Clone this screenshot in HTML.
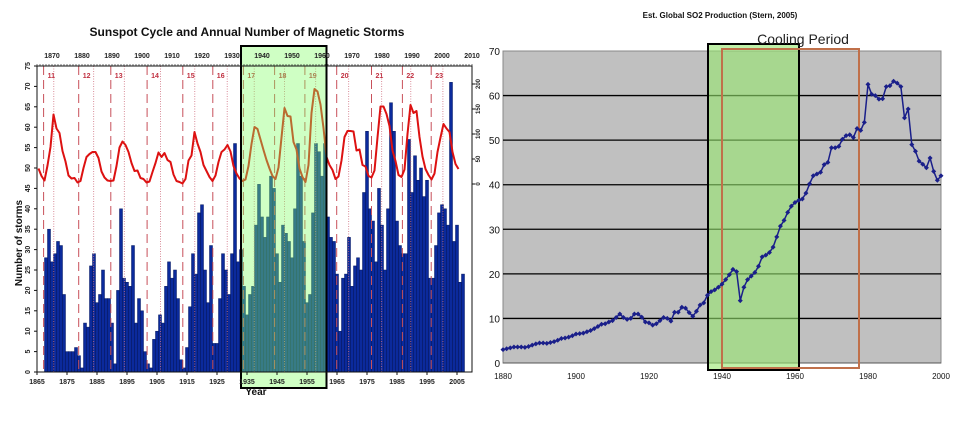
<!DOCTYPE html>
<html><head><meta charset="utf-8"><style>
html,body{margin:0;padding:0;background:#fff;}
svg{display:block;font-family:"Liberation Sans",sans-serif;}
</style></head><body>
<svg id="s" width="960" height="421" viewBox="0 0 960 421">
<g id="left"></g>
<g id="right"></g>
</svg>
<script>
// ---------- Left chart data ----------
const stormStartYear = 1867;
const stormCounts = [28,35,27,29,32,31,19,5,5,5,6,4,1,12,11,26,29,17,19,25,18,18,12,2,20,40,23,22,21,31,12,18,15,5,2,1,8,10,14,12,21,27,23,25,18,3,1,6,16,29,24,39,41,25,17,31,7,7,18,29,25,19,29,56,27,30,21,14,19,21,36,46,38,33,38,48,45,29,22,36,34,32,28,40,56,48,32,17,19,39,56,54,48,56,38,33,32,24,10,23,24,33,21,26,28,25,44,59,40,37,27,45,36,25,40,66,59,37,31,29,29,57,44,53,47,50,43,47,23,23,31,39,41,40,36,71,32,36,22,24];
const sunspotStartYear = 1865;
const sunspotNumbers = [31,16,7,37,74,139,111,102,66,45,17,11,12,3,6,32,54,60,64,64,52,25,13,7,6,7,36,73,85,78,64,42,26,27,12,10,3,5,24,42,63,54,62,48,44,19,6,4,1,10,47,57,104,81,64,38,26,14,6,17,44,64,69,78,65,36,21,11,6,9,36,80,114,110,89,68,48,31,16,10,33,93,152,136,135,84,69,31,14,4,38,142,190,185,159,112,54,38,28,10,15,47,94,106,106,105,67,69,38,35,16,13,27,93,155,155,140,116,67,46,18,14,29,100,158,142,146,94,55,30,18,9,21,64,93,120,111,104,64,40,30];
const cycleMinima = [1867.2,1878.9,1889.6,1901.7,1913.6,1923.6,1933.8,1944.2,1954.3,1964.9,1976.5,1986.8,1996.4];
const cycleMaxima = [1870.6,1883.9,1894.1,1906.2,1917.6,1928.4,1937.4,1947.5,1957.9,1968.9,1979.9,1989.6,2000.3];
const cycleLabels = ["11","12","13","14","15","16","17","18","19","20","21","22","23"];
const leftYTicks = [0,5,10,15,20,25,30,35,40,45,50,55,60,65,70,75];
const leftBottomTicks = [1865,1875,1885,1895,1905,1915,1925,1935,1945,1955,1965,1975,1985,1995,2005];
const leftTopTicks = [1870,1880,1890,1900,1910,1920,1930,1940,1950,1960,1970,1980,1990,2000,2010];
const rightSsnTicks = [0,50,100,150,200];

// ---------- Right chart data ----------
const so2Years = [1880,1881,1882,1883,1884,1885,1886,1887,1888,1889,1890,1891,1892,1893,1894,1895,1896,1897,1898,1899,1900,1901,1902,1903,1904,1905,1906,1907,1908,1909,1910,1911,1912,1913,1914,1915,1916,1917,1918,1919,1920,1921,1922,1923,1924,1925,1926,1927,1928,1929,1930,1931,1932,1933,1934,1935,1936,1937,1938,1939,1940,1941,1942,1943,1944,1945,1946,1947,1948,1949,1950,1951,1952,1953,1954,1955,1956,1957,1958,1959,1960,1961,1962,1963,1964,1965,1966,1967,1968,1969,1970,1971,1972,1973,1974,1975,1976,1977,1978,1979,1980,1981,1982,1983,1984,1985,1986,1987,1988,1989,1990,1991,1992,1993,1994,1995,1996,1997,1998,1999,2000];
const so2Values = [3,3.2,3.4,3.6,3.6,3.6,3.5,3.7,4,4.3,4.5,4.5,4.4,4.6,4.8,5.1,5.5,5.6,5.8,6.1,6.5,6.6,6.7,7,7.3,7.7,8.2,8.7,8.8,9.2,9.5,10.2,11,10.2,9.8,10,11,11,10.3,9.2,9,8.5,8.8,9.5,10.2,10,9.4,11.4,11.4,12.5,12.3,11.3,10.5,11.6,13,13.5,15.2,16,16.4,17,17.7,18.7,19.8,21,20.5,14,17,18.7,19.5,20.3,21.7,23.8,24.2,24.8,26,28.3,30.7,32,33.8,35.2,36,36.5,36.8,38.1,40.2,42,42.4,42.8,44.5,45,48.3,48.3,48.6,50.2,51,51.2,50.6,52.6,52.2,54,62.5,60.3,60,59.2,59.3,62,62.2,63.2,62.8,62,55,57,49,47.5,45.3,44.6,43.8,46,43,41,42];
const so2YTicks = [0,10,20,30,40,50,60,70];
const so2XTicks = [1880,1900,1920,1940,1960,1980,2000];
const so2XTickLabels = ["1880","1900","1920","1940","1960","1980","2000"];

const NS="http://www.w3.org/2000/svg";
function mk(parent,tag,attrs,txt){const e=document.createElementNS(NS,tag);for(const k in attrs)e.setAttribute(k,attrs[k]);if(txt!==undefined)e.textContent=txt;parent.appendChild(e);return e;}

// ===== LEFT =====
const L=document.getElementById('left');
const lx0=37,lx1=472,ly0=66,ly1=372;
const xL=y=>lx0+(y-1865)*(lx1-lx0)/(2010-1865);
const yL=v=>ly1-v*(ly1-ly0)/75;
const yS=s=>184-s*0.5;

let t=mk(L,'text',{x:247,y:36,'text-anchor':'middle','font-size':12,'font-weight':'bold',fill:'#111'},'Sunspot Cycle and Annual Number of Magnetic Storms');



const bars=mk(L,'g',{});


stormCounts.forEach((v,i)=>{const yr=stormStartYear+i;const xa=xL(yr+0.5),xb=xL(yr+1.5);
 const r=mk(bars,'rect',{x:xa,y:yL(v),width:xb-xa,height:yL(0)-yL(v),fill:'#0b2a9c',stroke:'#06195e','stroke-width':0.5});
 
 });

const cyc=mk(L,'g',{});


cycleMinima.forEach((m,i)=>{
 const l=mk(cyc,'line',{x1:xL(m),x2:xL(m),y1:ly0,y2:ly1,stroke:'#c8505a','stroke-width':1,'stroke-dasharray':'9,5'});
 
 
 const tx=mk(cyc,'text',{x:xL(m)+4,y:78,'font-size':7,fill:'#c03040','font-weight':'bold'},cycleLabels[i]);
 
 
});
cycleMaxima.forEach(m=>{
 const l=mk(cyc,'line',{x1:xL(m),x2:xL(m),y1:ly0,y2:ly1,stroke:'#d07080','stroke-width':0.8,'stroke-dasharray':'1,1.5'});
 
 
});

let d='';sunspotNumbers.forEach((s,i)=>{d+=(i?'L':'M')+xL(sunspotStartYear+i+0.5)+','+yS(s);});
const ssl=mk(L,'path',{d:d,fill:'none',stroke:'#dd1111','stroke-width':2,'stroke-linejoin':'round'});



const ov=mk(L,'rect',{x:xL(1933),y:46,width:xL(1961.5)-xL(1933),height:342,fill:'rgba(130,255,100,0.38)',stroke:'#000','stroke-width':2});



const fr=mk(L,'rect',{x:lx0,y:ly0,width:lx1-lx0,height:ly1-ly0,fill:'none',stroke:'#111','stroke-width':1});



const ax=mk(L,'g',{'font-size':7,fill:'#222','font-weight':'bold'});


leftYTicks.forEach(v=>{const y=yL(v);mk(ax,'line',{x1:lx0-3,x2:lx0,y1:y,y2:y,stroke:'#111'});
 const tx=mk(ax,'text',{x:30,y:y,transform:`rotate(-90 30 ${y})`,'text-anchor':'middle'},String(v));
 
 });
leftBottomTicks.forEach(v=>{const x=xL(v);mk(ax,'line',{x1:x,x2:x,y1:ly1,y2:ly1+3,stroke:'#111'});
 const tx=mk(ax,'text',{x:x,y:384,'text-anchor':'middle'},String(v));
 
 });
for(let yr=1865;yr<=2010;yr++){const x=xL(yr);mk(ax,'line',{x1:x,x2:x,y1:ly0,y2:ly0-2,stroke:'#111','stroke-width':0.6});}
leftTopTicks.forEach(v=>{const x=xL(v);
 const tx=mk(ax,'text',{x:x,y:58,'text-anchor':'middle'},String(v));
 
 });
rightSsnTicks.forEach(v=>{const y=yS(v);mk(ax,'line',{x1:lx1,x2:lx1+3,y1:y,y2:y,stroke:'#111'});
 const tx=mk(ax,'text',{x:480,y:y,transform:`rotate(-90 480 ${y})`,'text-anchor':'middle','font-size':6},String(v));
 
 });
t=mk(L,'text',{x:22,y:243,transform:'rotate(-90 22 243)','text-anchor':'middle','font-size':10,'font-weight':'bold',fill:'#111'},'Number of storms');


t=mk(L,'text',{x:256,y:395,'text-anchor':'middle','font-size':10,'font-weight':'bold',fill:'#111'},'Year');



// ===== RIGHT =====
const R=document.getElementById('right');
const rx0=503,rx1=941,ry0=51,ry1=363;
const xR=y=>rx0+(y-1880)*(rx1-rx0)/120;
const yR=v=>ry1-v*(ry1-ry0)/70;
t=mk(R,'text',{x:720,y:18,'text-anchor':'middle','font-size':8,'font-weight':'bold',fill:'#111'},'Est. Global SO2 Production (Stern, 2005)');


const bg=mk(R,'rect',{x:rx0,y:ry0,width:rx1-rx0,height:ry1-ry0,fill:'#c0c0c0',stroke:'#888'});


const grid=mk(R,'g',{});


so2YTicks.forEach(v=>{const y=yR(v);if(v>0&&v<70)mk(grid,'line',{x1:rx0,x2:rx1,y1:y,y2:y,stroke:'#000','stroke-width':1.3});
 const tx=mk(R,'text',{x:rx0-3,y:y+4,'text-anchor':'end','font-size':10,fill:'#111'},String(v));
 
 });
mk(R,'line',{x1:rx0,x2:rx1,y1:ry1,y2:ry1,stroke:'#555','stroke-width':1});
so2XTicks.forEach((v,i)=>{const tx=mk(R,'text',{x:xR(v),y:379,'text-anchor':'middle','font-size':8,fill:'#111'},so2XTickLabels[i]);
 
 });

const gb=mk(R,'rect',{x:708,y:44,width:91,height:326,fill:'rgba(150,230,110,0.6)',stroke:'#000','stroke-width':2});


const ob=mk(R,'rect',{x:722,y:49,width:137,height:319,fill:'none',stroke:'#c0704a','stroke-width':2});


t=mk(R,'text',{x:803,y:44,'text-anchor':'middle','font-size':14,fill:'#222'},'Cooling Period');



let d2='';so2Values.forEach((v,i)=>{d2+=(i?'L':'M')+xR(so2Years[i])+','+yR(v);});
const sl=mk(R,'path',{d:d2,fill:'none',stroke:'#1a1f8a','stroke-width':1.5});


const mg=mk(R,'g',{fill:'#1a1f8a'});


so2Values.forEach((v,i)=>{const x=xR(so2Years[i]),y=yR(v);
 const p=mk(mg,'path',{d:`M${x},${y-2.5}L${x+2.5},${y}L${x},${y+2.5}L${x-2.5},${y}Z`});
 
 });
</script>
</body></html>
